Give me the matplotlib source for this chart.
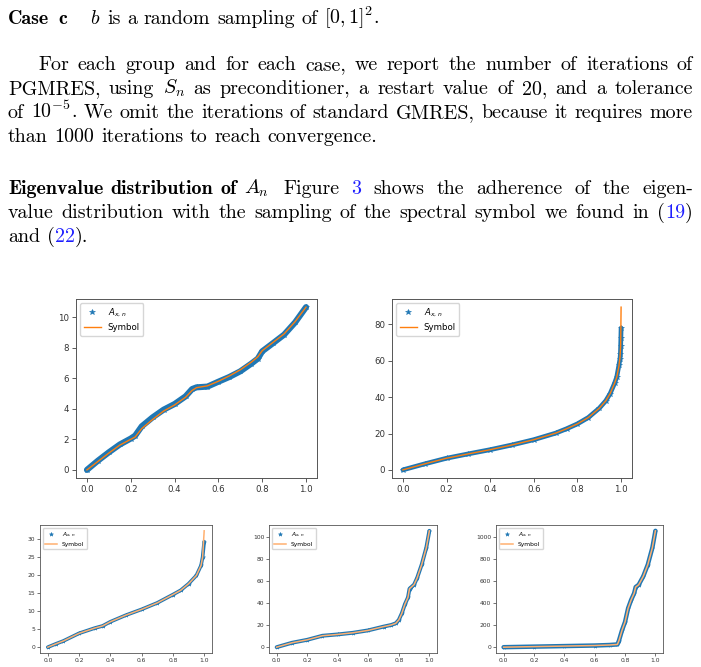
import matplotlib
matplotlib.use('Agg')
import matplotlib.pyplot as plt

W, H = 701, 667
fig = plt.figure(figsize=(W / 100, H / 100), dpi=100)
renderer = fig.canvas.get_renderer()

# ---------------- data ----------------
# top-left
x1 = [0, 0.05, 0.1, 0.15, 0.2, 0.22, 0.25, 0.3, 0.35, 0.4, 0.45, 0.48, 0.5, 0.55,
      0.6, 0.65, 0.7, 0.75, 0.78, 0.8, 0.85, 0.9, 0.95, 1.0]
eig1 = [0, 0.6, 1.15, 1.66, 2.05, 2.24, 2.85, 3.44, 3.94, 4.31, 4.81, 5.29, 5.40, 5.45,
        5.77, 6.08, 6.45, 6.95, 7.28, 7.76, 8.30, 8.85, 9.65, 10.65]
sym1 = [0, 0.55, 1.1, 1.62, 2.0, 2.15, 2.7, 3.3, 3.85, 4.25, 4.75, 5.2, 5.38, 5.5,
        5.8, 6.15, 6.55, 7.05, 7.4, 7.8, 8.35, 8.9, 9.7, 10.65]
# top-right
xe2 = [0, 0.1, 0.2, 0.3, 0.4, 0.5, 0.6, 0.7, 0.75, 0.8, 0.85, 0.9, 0.93, 0.95,
       0.97, 0.98, 0.99, 0.995, 0.997, 0.998, 0.999, 1.0]
eig2 = [0, 3.3, 6.4, 8.8, 11.1, 13.7, 16.6, 20.2, 22.6, 25.3, 28.8, 33.9, 38, 42,
        47.6, 51, 57.6, 61, 64, 68, 72.5, 78]
xs2 = [0, 0.1, 0.2, 0.3, 0.4, 0.5, 0.6, 0.7, 0.75, 0.8, 0.85, 0.9, 0.93, 0.95,
       0.97, 0.98, 0.99, 0.995, 0.998, 1.0]
sym2 = [0, 3.3, 6.4, 8.8, 11.1, 13.7, 16.6, 20.2, 22.6, 25.3, 28.8, 33.9, 38, 42,
        47.6, 51, 57, 62, 68, 89.5]
# bottom-left
x3 = [0, 0.05, 0.1, 0.2, 0.3, 0.35, 0.4, 0.5, 0.6, 0.7, 0.8, 0.85, 0.9, 0.95,
      0.98, 0.99, 1.0]
eig3 = [0, 0.9, 1.74, 3.85, 5.3, 5.9, 7.06, 8.9, 10.5, 12.3, 14.6, 15.8, 17.6, 19.9,
        22.7, 25, 29.3]
sym3 = [0, 0.9, 1.74, 3.85, 5.3, 5.9, 7.06, 8.9, 10.5, 12.3, 14.6, 15.8, 17.6, 19.9,
        22.7, 25, 32.3]
# bottom-middle
x4 = [0, 0.1, 0.2, 0.3, 0.4, 0.5, 0.6, 0.7, 0.75, 0.78, 0.8, 0.82, 0.84, 0.86,
      0.87, 0.88, 0.9, 0.92, 0.95, 0.98, 1.0]
eig4 = [0, 4, 6.7, 10.4, 11.6, 13.1, 15.3, 18.7, 20.2, 21.7, 24.8, 30.9, 39.1, 45.3,
        53.2, 54.4, 56.9, 63, 75.2, 90.5, 105.8]
sym4 = eig4
# bottom-right
x5 = [0, 0.2, 0.4, 0.6, 0.7, 0.75, 0.76, 0.78, 0.8, 0.82, 0.84, 0.86, 0.87, 0.89,
      0.92, 0.95, 0.98, 1.0]
eig5 = [0, 5, 10, 15, 20, 25, 60, 153, 229, 352, 428, 489, 545, 566, 642, 749, 902, 1055]
sym5 = eig5

xticks = [0.0, 0.2, 0.4, 0.6, 0.8, 1.0]
yticks1 = [0, 2, 4, 6, 8, 10]
yticks2 = [0, 20, 40, 60, 80]
yticks3 = [0, 5, 10, 15, 20, 25, 30]
yticks4 = [0, 20, 40, 60, 80, 100]
yticks5 = [0, 200, 400, 600, 800, 1000]

# ---------------- body text ----------------
TXT = 14.4
LINK = '#1f1fff'
RM = dict(family='cmr10', math_fontfamily='cm', color='black')
BF = dict(family='cmb10', math_fontfamily='cm', color='black')
BL = dict(family='cmr10', math_fontfamily='cm', color=LINK)


def put(s, y, kw):
    return fig.text(0, 1 - y / H, s, fontsize=TXT, va='baseline', ha='left', **kw)


def words(s, kw=RM):
    return [[(w, kw)] for w in s.split(' ')]


def line(y, wl, x0, x1=None, gap=6.7):
    objs, ws = [], []
    for word in wl:
        pieces, tot = [], 0
        for s, kw in word:
            t = put(s, y, kw)
            w = t.get_window_extent(renderer).width
            pieces.append((t, w))
            tot += w
        objs.append(pieces)
        ws.append(tot)
    if x1 is not None and len(ws) > 1:
        gap = (x1 - x0 - sum(ws)) / (len(ws) - 1)
    x = x0
    for pieces in objs:
        for t, w in pieces:
            t.set_x(x / W)
            x += w
        x += gap
    return x


L, R = 8, 693
line(24, [[('Case', BF)], [('c', BF)]], L, gap=9)
line(24, words(r'$b$ is a random sampling of $[0,1]^2$.'), 90)
line(70, words('For each group and for each case, we report the number of iterations of'), 38, R)
line(94, words(r'PGMRES, using $S_n$ as preconditioner, a restart value of 20, and a tolerance'), L, R)
line(118, words(r'of $10^{-5}$. We omit the iterations of standard GMRES, because it requires more'), L, R)
line(142, words('than 1000 iterations to reach convergence.'), L)
line(194, words('Eigenvalue distribution of', BF) + [[(r'$A_n$', RM)]], L, gap=7.5)
line(194, words('Figure') + [[('3', BL)]] + words('shows the adherence of the eigen-'), 283, R)
line(218, words('value distribution with the sampling of the spectral symbol we found in')
     + [[('(', RM), ('19', BL), (')', RM)]], L, R)
line(242, [[('and', RM)], [('(', RM), ('22', BL), (').', RM)]], L)

# ---------------- plots ----------------
BLUE = '#1f77b4'
ORANGE = '#ff7f0e'


def mkax(l, r, t, b):
    return fig.add_axes([l / W, 1 - b / H, (r - l) / W, (b - t) / H])


def style(ax, fs, yt, lw):
    ax.set_xticks(xticks)
    ax.set_yticks(yt)
    ax.tick_params(labelsize=fs, length=fs * 0.45, width=lw * 0.8, pad=fs * 0.35,
                   colors='#333333')
    for sp in ax.spines.values():
        sp.set_color('#555555')
        sp.set_linewidth(lw)
    ax.legend(loc='upper left', fontsize=fs, framealpha=0.8, edgecolor='#cccccc',
              borderpad=0.4, handlelength=2.0, labelspacing=0.5)


panels = [
    ((76, 317, 299, 478), x1, eig1, x1, sym1, yticks1, 6.2, 4.4, 4.2, 1.0, ORANGE),
    ((392, 632, 299, 478), xe2, eig2, xs2, sym2, yticks2, 6.2, 3.4, 4.2, 1.0, ORANGE),
    ((40, 212, 525, 653), x3, eig3, x3, sym3, yticks3, 4.3, 2.6, 3.0, 1.1, '#ffb070'),
    ((269, 437, 525, 653), x4, eig4, x4, sym4, yticks4, 4.3, 2.8, 3.0, 1.1, '#ffb070'),
    ((496, 663, 525, 653), x5, eig5, x5, sym5, yticks5, 4.3, 3.2, 3.0, 1.1, '#ffb070'),
]

for box, xe_, ye_, xs_, ys_, yt, fs, band, ms, olw, oc in panels:
    ax = mkax(*box)
    ax.plot(xe_, ye_, '-', color=BLUE, lw=band, solid_capstyle='round')
    ax.plot(xe_, ye_, '*', color=BLUE, ms=ms, mew=0.4, label=r'$A_{x,n}$')
    ax.plot(xs_, ys_, '-', color=oc, lw=olw, label='Symbol')
    style(ax, fs, yt, 0.7 if fs > 5 else 0.6)

fig.savefig('out.png', dpi=100)
